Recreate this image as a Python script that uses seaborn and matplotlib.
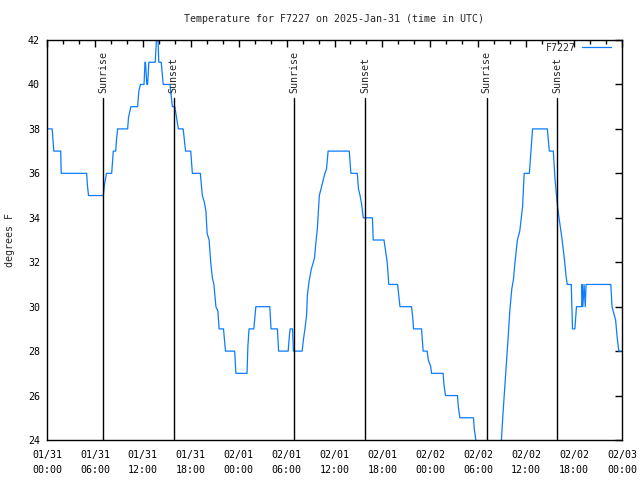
import matplotlib
matplotlib.use("Agg")
import matplotlib.pyplot as plt
import matplotlib.dates as mdates
import pandas as pd
import seaborn as sns

# Temperatura de la estación (horas desde 2025-01-31 00:00 UTC, grados F)
station = "F7227"
start = pd.Timestamp("2025-01-31 00:00")

hours = [0.0, 0.65, 0.75, 0.85, 1.72, 1.78, 4.97, 5.05, 5.2, 7.05, 7.2, 7.35, 7.45,
         8.1, 8.2, 8.3, 8.6, 8.7, 8.85, 10.1, 10.2, 10.5, 11.35, 11.5, 11.7,
         12.15, 12.27, 12.33, 12.5, 12.6, 12.75, 13.55, 13.7, 13.9, 14.0, 14.3, 14.55,
         15.4, 15.7, 16.0, 16.45, 17.05, 17.35, 18.0, 18.2, 19.2,
         19.45, 19.7, 19.9, 20.05, 20.3, 20.5, 20.7, 20.9, 21.15, 21.4, 21.55, 22.1, 22.35,
         23.5, 23.65, 25.05, 25.15, 25.3, 25.9, 26.15, 27.9, 28.05, 28.85, 29.0,
         30.2, 30.35, 30.45, 30.75, 30.85, 31.95, 32.1, 32.3, 32.5, 32.6, 32.8, 33.1,
         33.35, 33.5, 33.7, 33.85, 34.1, 34.6, 34.8, 35.0, 35.2, 37.85, 38.05, 38.85,
         39.0, 39.2, 39.4, 39.6, 40.75, 40.85, 42.2, 42.4, 42.6, 42.8, 43.9, 44.05, 44.2,
         45.65, 45.8, 45.9, 46.9, 47.0, 47.1, 47.6, 47.75, 48.05, 48.15, 49.6, 49.7, 49.9,
         51.4, 51.5, 51.7, 53.4, 53.5, 53.7, 53.85, 56.75, 56.9,
         57.1, 57.35, 57.55, 57.75, 57.95, 58.2, 58.4, 58.6, 58.9, 59.2, 59.55, 59.75,
         60.4, 60.6, 60.8, 62.65, 62.9, 63.4, 63.6, 63.9, 64.15, 64.45, 64.8, 65.0, 65.15,
         65.65, 65.8, 66.1, 66.3, 66.95, 67.0, 67.1, 67.25, 67.4, 67.5,
         70.6, 70.75, 71.2, 71.4, 71.6, 71.9]
temp_f = [38, 38, 37.5, 37, 37, 36, 36, 35.5, 35, 35, 35.5, 35.8, 36,
          36, 36.5, 37, 37, 37.5, 38, 38, 38.5, 39, 39, 39.7, 40,
          40, 41, 41, 40, 40, 41, 41, 42, 42, 41, 41, 40,
          40, 39, 39, 38, 38, 37, 37, 36, 36,
          35, 34.7, 34.3, 33.3, 33, 32, 31.3, 31, 30, 29.8, 29, 29, 28,
          28, 27, 27, 28.2, 29, 29, 30, 30, 29, 29, 28,
          28, 28.7, 29, 29, 28, 28, 28.5, 29, 29.6, 30.5, 31.1, 31.7,
          32, 32.2, 33, 33.5, 35, 35.7, 36, 36.2, 37, 37, 36, 36,
          35.3, 35, 34.6, 34, 34, 33, 33, 32.5, 32, 31, 31, 30.5, 30,
          30, 29.5, 29, 29, 28.5, 28, 28, 27.6, 27.3, 27, 27, 26.5, 26,
          26, 25.5, 25, 25, 24.5, 24, 23, 23, 24,
          25.2, 26.5, 27.5, 28.65, 29.8, 30.8, 31.2, 32, 33, 33.4, 34.5, 36,
          36, 37, 38, 38, 37, 37, 35.8, 34.6, 33.9, 33.15, 32.1, 31.35, 31,
          31, 29, 29, 30, 30, 31, 30, 31, 30, 31,
          31, 30, 29.4, 28.6, 28, 28]

sun_hours = [7.07, 15.87, 30.95, 39.84, 55.07, 63.92]
sun_labels = ["Sunrise", "Sunset", "Sunrise", "Sunset", "Sunrise", "Sunset"]

y_ticks = list(range(24, 43, 2))
title = "Temperature for F7227 on 2025-Jan-31 (time in UTC)"
y_label = "degrees F"

sns.set_theme(style="white")
plt.rcParams["font.family"] = ["DejaVu Sans Mono"]
plt.rcParams["axes.edgecolor"] = "black"

df = pd.DataFrame({
    "time": start + pd.to_timedelta(hours, unit="h"),
    "temp": temp_f,
})

fig = plt.figure(figsize=(6.4, 4.8), dpi=100)
ax = fig.add_axes([47 / 640, 40 / 480, 575 / 640, 400 / 480])

sns.lineplot(data=df, x="time", y="temp", ax=ax, color="#0a7cff", linewidth=0.9,
             label=station, estimator=None, sort=False)

# Líneas de amanecer / atardecer
for h, lab in zip(sun_hours, sun_labels):
    t = mdates.date2num(start + pd.Timedelta(hours=h))
    ax.axvline(t, ymin=0, ymax=0.855, color="black", linewidth=1.0)
    ax.text(t, 0.868, lab, transform=ax.get_xaxis_transform(), rotation=90,
            ha="center", va="bottom", fontsize=7.2)

ax.set_xlim(mdates.date2num(start), mdates.date2num(start + pd.Timedelta(hours=72)))
ax.set_ylim(24, 42)
ax.set_yticks(y_ticks)
ax.xaxis.set_major_locator(mdates.HourLocator(byhour=[0, 6, 12, 18]))
ax.xaxis.set_minor_locator(mdates.HourLocator(byhour=range(0, 24, 2)))
ax.xaxis.set_major_formatter(mdates.DateFormatter("%m/%d\n%H:%M"))

ax.tick_params(which="both", direction="in", top=True, right=True, colors="black",
               labelsize=7.2, width=1)
ax.tick_params(which="major", length=5, pad=5)
ax.tick_params(which="minor", length=3)
ax.tick_params(axis="x", pad=7)
for lbl in ax.get_xticklabels():
    lbl.set_linespacing(1.6)

for sp in ax.spines.values():
    sp.set_color("black")
    sp.set_linewidth(1)

ax.set_xlabel("")
ax.set_ylabel(y_label, fontsize=7.2)
ax.yaxis.set_label_coords(-(47 - 15) / 575, 0.5)

ax.legend(loc="upper right", bbox_to_anchor=(1 - 11 / 575, 1 - 3 / 400), frameon=False,
          markerfirst=False, handlelength=2.9, handletextpad=0.6, borderaxespad=0,
          borderpad=0, fontsize=7.2)

fig.text(334.5 / 640, 1 - 19 / 480, title, ha="center", va="center", fontsize=7.2)

fig.savefig("out.png", dpi=100)
